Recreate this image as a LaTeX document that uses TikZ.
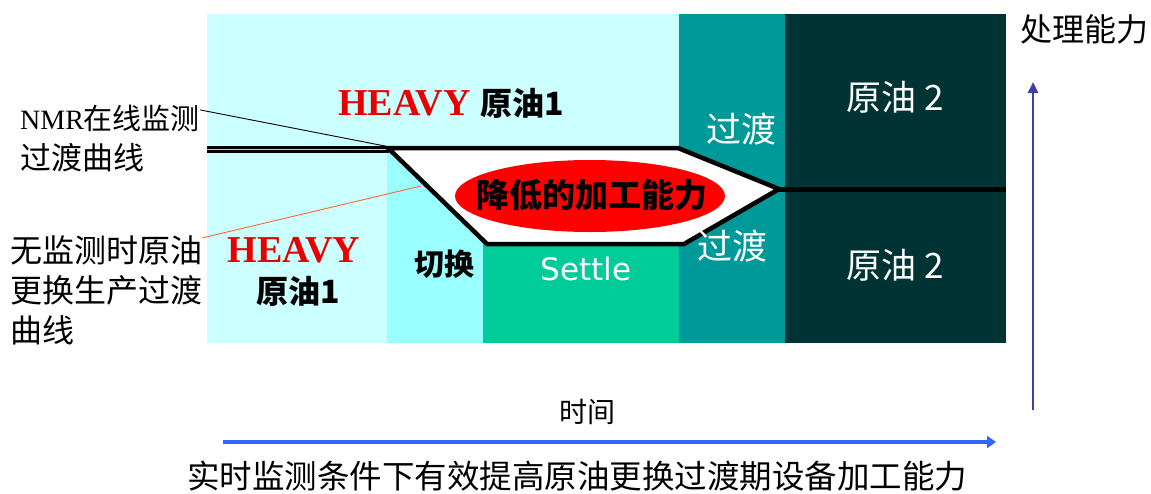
\documentclass[tikz,border=0pt]{standalone}
\usepackage{fontspec}
\setmainfont{Liberation Serif}
\newfontfamily\cjk{Noto Sans CJK SC}
\newfontfamily\dejavu{DejaVu Sans}
\usetikzlibrary{arrows.meta,shapes.geometric}
\definecolor{lcyan}{HTML}{CCFFFF}
\definecolor{mcyan}{HTML}{99FFFF}
\definecolor{settlegreen}{HTML}{00CC99}
\definecolor{tealband}{HTML}{009999}
\definecolor{darkband}{HTML}{003333}
\definecolor{navyarrow}{HTML}{3F3FA5}
\definecolor{bluearrow}{HTML}{3366FF}
\definecolor{orangelead}{HTML}{FF6633}
\definecolor{heavyred}{HTML}{E80000}
\newcommand\fsz[1]{\fontsize{#1}{#1}\selectfont}
\newcommand\heavytxt{{\color{heavyred}HEAVY}}
\begin{document}
\begin{tikzpicture}[x=1pt,y=-1pt,
  lbl/.style={inner sep=0pt, font=\cjk\fsz{29}},
  wlbl/.style={inner sep=0pt, text=white, font=\cjk\fsz{35}},
  lead/.style={line width=0.9pt}]
\useasboundingbox (0,0) rectangle (1151,493);
% bands
\fill[lcyan] (207,14) rectangle (679,343);
\fill[mcyan] (387,148) rectangle (483,343);
\fill[settlegreen] (483,243) rectangle (679,343);
\fill[tealband] (679,14) rectangle (785,343);
\fill[darkband] (785,14) rectangle (1006,343);
% curves
\draw[line width=2.5pt, double=gray!40, double distance=1.2pt] (207,149.5) -- (389,149.5);
\draw[line width=4.5pt, fill=white, line join=miter] (388,148) -- (678,148) -- (779,189) -- (684,244) -- (487,244) -- cycle;
\draw[line width=5pt] (779,189) -- (1006,189);
% ellipse
\node[ellipse, fill=red, minimum width=270pt, minimum height=72pt, inner sep=0pt] (ell) at (590,196) {};
\node[anchor=base, inner sep=0pt, font=\cjk\bfseries\fsz{33}] (reduce) at (592,207) {降低的加工能力};
% region texts
\node[anchor=base, inner sep=0pt, font=\bfseries\fsz{38}] (heavyA) at (451,115) {\heavytxt\ {\cjk\fsz{32}原油1}};
\node[anchor=base, inner sep=0pt, font=\bfseries\fsz{38}] (heavyB) at (294,262) {\heavytxt};
\node[anchor=base, inner sep=0pt, font=\cjk\bfseries\fsz{32}] (crudeB) at (298,303) {原油1};
\node[anchor=base, inner sep=0pt, font=\cjk\bfseries\fsz{30}] (switch) at (444,275) {切换};
\node[anchor=base, inner sep=0pt, text=white, font=\dejavu\fsz{31}] (settle) at (586,280) {Settle};
\node[wlbl, anchor=base] (transA) at (741,142) {过渡};
\node[wlbl, anchor=base] (transB) at (732,259) {过渡};
\node[wlbl, anchor=base] (crude2A) at (895,110) {原油 2};
\node[wlbl, anchor=base] (crude2B) at (895,278) {原油 2};
% left labels
\node[lbl, anchor=base west] (nmrA) at (20,129) {{\rmfamily\fsz{28}NMR}在线监测};
\node[lbl, anchor=base west, font=\cjk\fsz{31}] (nmrB) at (20,169) {过渡曲线};
\node[lbl, anchor=base west, font=\cjk\fsz{32}] (noA) at (10,262) {无监测时原油};
\node[lbl, anchor=base west, font=\cjk\fsz{32}] (noB) at (10,302) {更换生产过渡};
\node[lbl, anchor=base west, font=\cjk\fsz{32}] (noC) at (10,342) {曲线};
\coordinate (nmrEnd) at (390,147);
\coordinate (noEnd) at (421,186);
\draw[lead] (nmrA.east) ++(0,-8) -- (nmrEnd);
\draw[lead, orangelead] (noA.east) ++(0,-12) -- (noEnd);
% axes
\node[anchor=base, inner sep=0pt, font=\cjk\fsz{32}] (capax) at (1084,41) {处理能力};
\coordinate (vBot) at (1033,410);
\coordinate (vTop) at (1033,82);
\draw[navyarrow, line width=2.5pt, -{Triangle[length=11pt,width=10pt]}] (vBot) -- (vTop);
\node[anchor=base, inner sep=0pt, font=\cjk\fsz{28}] (time) at (587,422) {时间};
\coordinate (hL) at (223,442);
\coordinate (hR) at (996,442);
\draw[bluearrow, line width=4pt, -{Triangle[length=9pt,width=12pt]}] (hL) -- (hR);
\node[anchor=base, inner sep=0pt, font=\cjk\fsz{32.5}] (bottom) at (577,488) {实时监测条件下有效提高原油更换过渡期设备加工能力};
\end{tikzpicture}
\end{document}
